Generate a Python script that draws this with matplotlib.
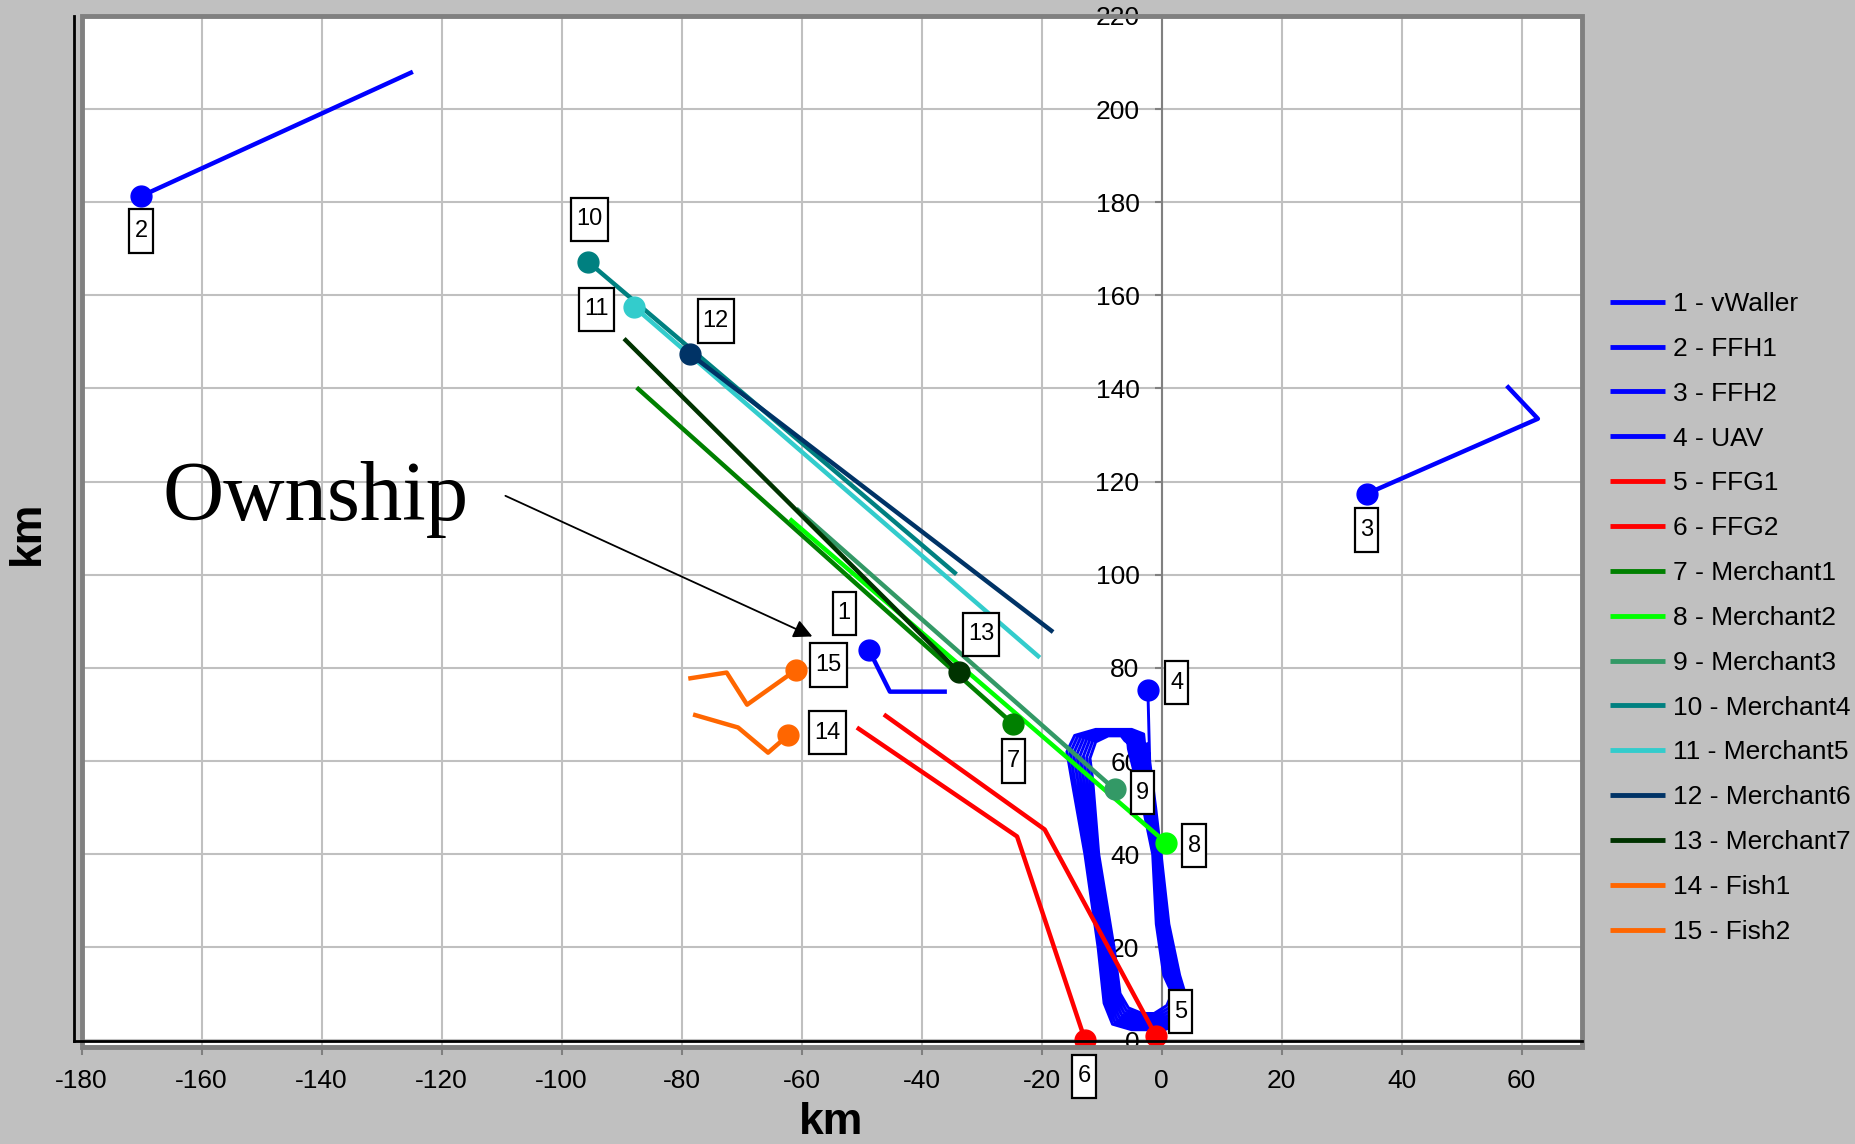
import matplotlib.pyplot as plt
from matplotlib.patches import Rectangle
from matplotlib.path import Path

plt.rcParams['font.family'] = ['Liberation Sans', 'DejaVu Sans']
plt.rcParams['axes.unicode_minus'] = False

# tracks in km, the last point is the current position (drawn with a marker)
vwaller_x = [-35.8, -45.3, -48.8]
vwaller_y = [74.9, 74.9, 83.9]
ffh1_x = [-124.8, -170.1]
ffh1_y = [208.0, 181.3]
ffh2_x = [57.5, 62.7, 34.2]
ffh2_y = [140.6, 133.5, 117.4]
# UAV orbit laps (outer to inner), then the climb to the marker
uav_laps_x = [
    [-2.40, -1.00, -0.10, 1.20, 3.00, 4.40, 3.50, 0.50, -5.00, -8.20, -9.60, -10.60, -12.80, -15.00, -15.80, -14.50, -11.00, -5.00, -3.00],
    [-2.85, -1.30, -0.30, 0.90, 2.62, 4.02, 3.12, 0.25, -4.75, -7.82, -9.22, -10.22, -12.47, -14.50, -15.25, -14.00, -10.70, -5.25, -3.45],
    [-3.30, -1.60, -0.50, 0.60, 2.24, 3.64, 2.74, 0.00, -4.50, -7.44, -8.84, -9.84, -12.14, -14.00, -14.70, -13.50, -10.40, -5.50, -3.90],
    [-3.75, -1.90, -0.70, 0.30, 1.86, 3.26, 2.36, -0.25, -4.25, -7.06, -8.46, -9.46, -11.81, -13.50, -14.15, -13.00, -10.10, -5.75, -4.35],
    [-4.20, -2.20, -0.90, 0.00, 1.48, 2.88, 1.98, -0.50, -4.00, -6.68, -8.08, -9.08, -11.48, -13.00, -13.60, -12.50, -9.80, -6.00, -4.80],
    [-4.65, -2.50, -1.10, -0.30, 1.10, 2.50, 1.60, -0.75, -3.75, -6.30, -7.70, -8.70, -11.15, -12.50, -13.05, -12.00, -9.50, -6.25, -5.25],
    [-5.10, -2.80, -1.30, -0.60, 0.72, 2.12, 1.22, -1.00, -3.50, -5.92, -7.32, -8.32, -10.82, -12.00, -12.50, -11.50, -9.20, -6.50, -5.70],
    [-5.55, -3.10, -1.50, -0.90, 0.34, 1.74, 0.84, -1.25, -3.25, -5.54, -6.94, -7.94, -10.49, -11.50, -11.95, -11.00, -8.90, -6.75, -6.15],
]
uav_laps_y = [
    [64.0, 50, 40, 25, 14, 8.0, 4.0, 2.3, 2.3, 3.5, 8.0, 20, 40, 56, 62.0, 65.5, 66.8, 66.8, 65.8],
    [63.8, 50, 40, 25, 14, 8.3, 4.5, 2.8, 2.8, 4.0, 8.3, 20, 40, 56, 61.8, 65.3, 66.6, 66.6, 65.6],
    [63.6, 50, 40, 25, 14, 8.6, 5.0, 3.3, 3.3, 4.5, 8.6, 20, 40, 56, 61.6, 65.1, 66.4, 66.4, 65.4],
    [63.4, 50, 40, 25, 14, 8.9, 5.5, 3.8, 3.8, 5.0, 8.9, 20, 40, 56, 61.4, 64.9, 66.2, 66.2, 65.2],
    [63.2, 50, 40, 25, 14, 9.2, 6.0, 4.3, 4.3, 5.5, 9.2, 20, 40, 56, 61.2, 64.7, 66.0, 66.0, 65.0],
    [63.0, 50, 40, 25, 14, 9.5, 6.5, 4.8, 4.8, 6.0, 9.5, 20, 40, 56, 61.0, 64.5, 65.8, 65.8, 64.8],
    [62.8, 50, 40, 25, 14, 9.8, 7.0, 5.3, 5.3, 6.5, 9.8, 20, 40, 56, 60.8, 64.3, 65.6, 65.6, 64.6],
    [62.6, 50, 40, 25, 14, 10.1, 7.5, 5.8, 5.8, 7.0, 10.1, 20, 40, 56, 60.6, 64.1, 65.4, 65.4, 64.4],
]
uav_climb_x = [-2.0, -2.3]
uav_climb_y = [60.0, 75.3]
ffg1_x = [-46.3, -19.5, -0.9]
ffg1_y = [70.0, 45.3, 0.9]
ffg2_x = [-50.8, -24.1, -12.8]
ffg2_y = [67.2, 43.8, 0.2]
merchant1_x = [-87.5, -24.8]
merchant1_y = [140.2, 68.0]
merchant2_x = [-62.0, 0.7]
merchant2_y = [112.0, 42.5]
merchant3_x = [-60.9, -7.8]
merchant3_y = [114.2, 53.9]
merchant4_x = [-34.2, -95.6]
merchant4_y = [100.1, 167.2]
merchant5_x = [-20.3, -87.9]
merchant5_y = [82.2, 157.5]
merchant6_x = [-18.1, -78.6]
merchant6_y = [87.7, 147.4]
merchant7_x = [-89.6, -33.8]
merchant7_y = [150.7, 79.1]
fish1_x = [-78.1, -70.6, -65.6, -62.3]
fish1_y = [70.0, 67.2, 61.8, 65.5]
fish2_x = [-78.9, -72.5, -69.1, -60.9]
fish2_y = [77.7, 79.0, 72.1, 79.6]

uav_x = sum(uav_laps_x, []) + uav_climb_x
uav_y = sum(uav_laps_y, []) + uav_climb_y

names = ['1 - vWaller', '2 - FFH1', '3 - FFH2', '4 - UAV', '5 - FFG1', '6 - FFG2',
         '7 - Merchant1', '8 - Merchant2', '9 - Merchant3', '10 - Merchant4',
         '11 - Merchant5', '12 - Merchant6', '13 - Merchant7', '14 - Fish1', '15 - Fish2']
colors = ['#0000FF', '#0000FF', '#0000FF', '#0000FF', '#FF0000', '#FF0000',
          '#008000', '#00FF00', '#339966', '#008080', '#33CCCC', '#003366',
          '#003300', '#FF6600', '#FF6600']
xs = [vwaller_x, ffh1_x, ffh2_x, uav_x, ffg1_x, ffg2_x, merchant1_x, merchant2_x,
      merchant3_x, merchant4_x, merchant5_x, merchant6_x, merchant7_x, fish1_x, fish2_x]
ys = [vwaller_y, ffh1_y, ffh2_y, uav_y, ffg1_y, ffg2_y, merchant1_y, merchant2_y,
      merchant3_y, merchant4_y, merchant5_y, merchant6_y, merchant7_y, fish1_y, fish2_y]

# numbered boxes
box_text = ['1', '2', '3', '4', '5', '6', '7', '8', '9', '10', '11', '12', '13', '14', '15']
box_x = [-52.9, -170.1, 34.1, 2.5, 3.1, -12.9, -24.7, 5.4, -3.2, -95.4, -94.2, -74.3, -30.1, -55.7, -55.5]
box_y = [91.7, 173.8, 109.6, 76.8, 6.2, -7.7, 60.0, 41.8, 53.2, 176.3, 157.0, 154.5, 87.2, 66.1, 80.6]


def tall_box(x0, y0, width, height, mutation_size):
    # label box with more padding above/below than at the sides
    px = 0.22 * mutation_size
    py = 0.45 * mutation_size
    x0, y0 = x0 - px, y0 - py
    x1, y1 = x0 + width + 2 * px, y0 + height + 2 * py
    return Path([(x0, y0), (x1, y0), (x1, y1), (x0, y1), (x0, y0)], closed=True)


fig = plt.figure(figsize=(18.56, 11.44), dpi=100, facecolor='#C0C0C0')
ax = fig.add_axes([0.0440, 0.0848, 0.8082, 0.9013])
ax.set_facecolor('white')
ax.set_xlim(-180, 70)
ax.set_ylim(-1.4, 220)

for name, x, y, c in zip(names, xs, ys, colors):
    w = 2.1 if name == '4 - UAV' else 3.2
    ax.plot(x, y, color=c, lw=w, label=name, solid_capstyle='butt', zorder=3)
    ax.plot(x[-1], y[-1], 'o', color=c, ms=15, zorder=4)

for t, x, y in zip(box_text, box_x, box_y):
    ax.text(x, y, t, ha='center', va='center', fontsize=17, zorder=6,
            bbox=dict(boxstyle=tall_box, fc='white', ec='black', lw=1.6))

# Ownship annotation
ax.text(-166.6, 111.8, 'Ownship', family='Liberation Serif', fontsize=61, va='baseline', zorder=6)
ax.annotate('', xy=(-57.8, 86.5), xytext=(-109.8, 117.2),
            arrowprops=dict(arrowstyle='-|>', color='black', lw=1.3, mutation_scale=28), zorder=6)

ax.set_xticks(range(-180, 61, 20))
ax.set_yticks(range(0, 221, 20))
ax.grid(color='#C0C0C0', lw=1.5, zorder=0)
ax.set_axisbelow(True)

for s in ['top', 'right']:
    ax.spines[s].set_visible(False)
ax.spines['left'].set_position(('data', 0))
ax.spines['left'].set_color('#808080')
ax.spines['left'].set_linewidth(1.5)
ax.spines['bottom'].set_color('#808080')
ax.spines['bottom'].set_linewidth(2.5)
ax.tick_params(axis='y', direction='out', length=5, width=1.5, color='#808080',
               labelsize=19, pad=11)
ax.tick_params(axis='x', direction='out', length=6, width=1.5, color='#808080',
               labelsize=19, pad=10)

# plot-area frame: grey border plus black edge on left/bottom
ax.add_patch(Rectangle((0, 0), 1, 1, transform=ax.transAxes, fill=False,
                       ec='#808080', lw=3.5, clip_on=False, zorder=5))
ax.plot([-0.0052, -0.0052], [0.0062, 1.0], transform=ax.transAxes, color='black',
        lw=2, clip_on=False, zorder=5)
ax.plot([-0.0052, 1.0], [0.0062, 0.0062], transform=ax.transAxes, color='black',
        lw=2, clip_on=False, zorder=5)

fig.text(831 / 1856, 1 - 1122 / 1144, 'km', ha='center', va='center',
         fontsize=32, fontweight='bold')
fig.text(27 / 1856, 1 - 533 / 1144, 'km', ha='center', va='center',
         fontsize=32, fontweight='bold', rotation=90)

leg = fig.legend(loc='upper left', bbox_to_anchor=(1610 / 1856, 1 - 292 / 1144), frameon=False,
                 fontsize=19, handlelength=2.1, handletextpad=0.3, labelspacing=0.79,
                 borderaxespad=0, borderpad=0)
for line in leg.get_lines():
    line.set_linewidth(3.5)

fig.savefig('out.png', dpi=100, facecolor=fig.get_facecolor())
